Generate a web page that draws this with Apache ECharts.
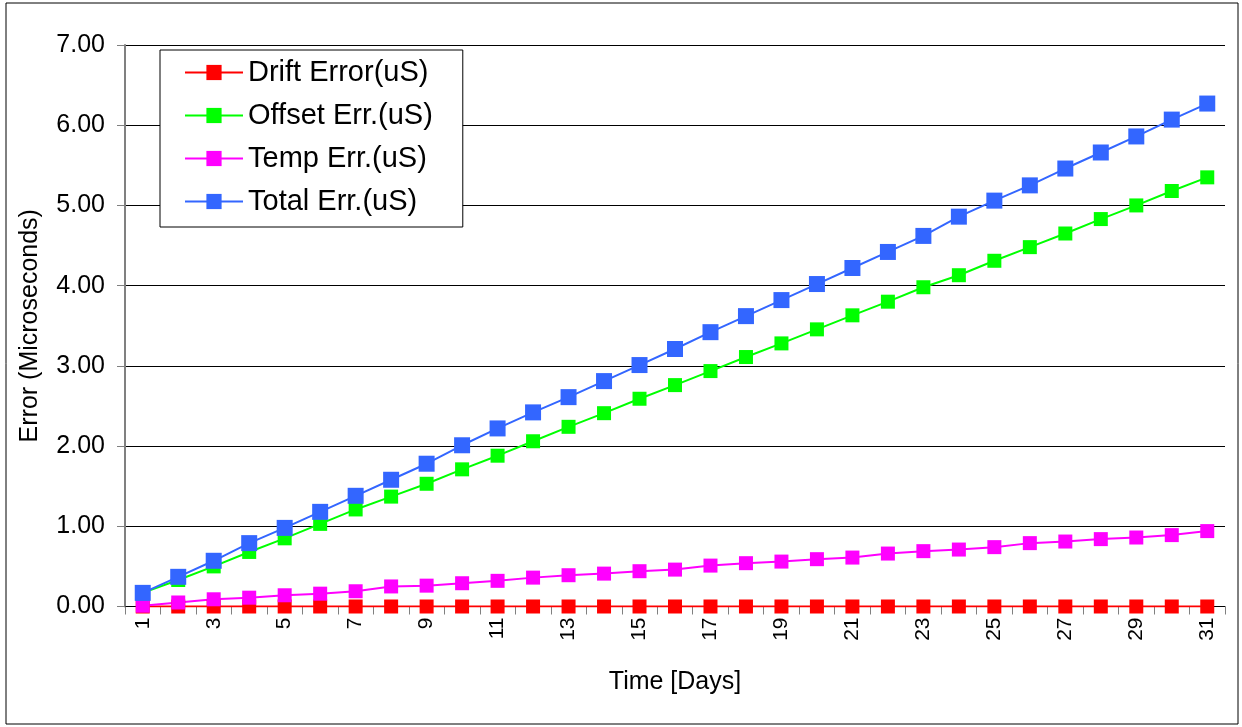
<!DOCTYPE html>
<html>
<head>
<meta charset="utf-8">
<script src="https://cdn.jsdelivr.net/npm/echarts@6/dist/echarts.min.js"></script>
<style>
html,body{margin:0;padding:0;background:#fff;}
#c{width:1242px;height:727px;}
</style>
</head>
<body>
<div id="c"></div>
<script>
const days = ['1','2','3','4','5','6','7','8','9','10','11','12','13','14','15','16','17','18','19','20','21','22','23','24','25','26','27','28','29','30','31'];
const driftErr = [0.00,0.00,0.00,0.00,0.00,0.00,0.00,0.00,0.00,0.00,0.00,0.00,0.00,0.00,0.00,0.00,0.00,0.00,0.00,0.00,0.00,0.00,0.00,0.00,0.00,0.00,0.00,0.00,0.00,0.00,0.00];
const offsetErr = [0.17,0.33,0.50,0.68,0.85,1.03,1.21,1.37,1.53,1.71,1.88,2.06,2.24,2.41,2.59,2.76,2.935,3.11,3.28,3.455,3.63,3.80,3.98,4.13,4.31,4.48,4.65,4.83,5.00,5.18,5.35];
const tempErr = [0.01,0.05,0.09,0.11,0.14,0.16,0.19,0.25,0.26,0.29,0.32,0.36,0.39,0.41,0.44,0.46,0.51,0.54,0.56,0.59,0.61,0.66,0.69,0.71,0.74,0.79,0.81,0.84,0.86,0.89,0.94];
const totalErr = [0.17,0.37,0.57,0.79,0.98,1.18,1.38,1.58,1.78,2.01,2.22,2.42,2.61,2.81,3.01,3.21,3.42,3.62,3.82,4.02,4.22,4.42,4.62,4.86,5.06,5.25,5.46,5.66,5.86,6.07,6.27];
const seriesNames = ['Drift Error(uS)','Offset Err.(uS)','Temp Err.(uS)','Total Err.(uS)'];

const FONT = 'Liberation Sans, Arial, sans-serif';
const chart = echarts.init(document.getElementById('c'), null, {renderer:'canvas'});

function mk(name, data, color, size) {
  return {
    name: name, type: 'line', data: data,
    symbol: 'rect', symbolSize: size,
    itemStyle: {color: color},
    lineStyle: {color: color, width: 2},
    emphasis: {disabled: true}
  };
}

chart.setOption({
  animation: false,
  backgroundColor: '#fff',
  graphic: [{
    type: 'rect', shape: {x: 6, y: 3, width: 1232, height: 721},
    style: {fill: 'none', stroke: '#000', lineWidth: 1}, z: -1
  }],
  grid: {left: 125, right: 17, top: 45, bottom: 120.5, containLabel: false},
  legend: {
    orient: 'vertical', left: 160, top: 50,
    data: seriesNames,
    itemWidth: 58, itemHeight: 19, itemGap: 14,
    padding: [8, 30, 11, 24],
    borderColor: '#000', borderWidth: 1,
    backgroundColor: '#fff',
    textStyle: {fontFamily: FONT, fontSize: 29, color: '#000', lineHeight: 28},
    selectedMode: false
  },
  xAxis: {
    type: 'category', data: days, boundaryGap: true,
    name: 'Time [Days]', nameLocation: 'middle', nameGap: 63,
    nameTextStyle: {fontFamily: FONT, fontSize: 25, color: '#000'},
    axisLine: {show: true, lineStyle: {color: '#000', width: 1}},
    axisTick: {show: true, interval: 0, length: 8, lineStyle: {color: '#808080', width: 1}},
    axisLabel: {interval: 1, rotate: 90, margin: 11, fontFamily: FONT, fontSize: 21, color: '#000'},
    splitLine: {show: false}
  },
  yAxis: {
    type: 'value', min: 0, max: 7, interval: 1,
    name: 'Error (Microseconds)', nameLocation: 'middle', nameGap: 82, nameRotate: 90,
    nameTextStyle: {fontFamily: FONT, fontSize: 25, color: '#000'},
    axisLine: {show: true, lineStyle: {color: '#808080', width: 2}},
    axisTick: {show: true, length: 8, lineStyle: {color: '#808080', width: 1}},
    axisLabel: {margin: 20, fontFamily: FONT, fontSize: 25, color: '#000', formatter: v => v.toFixed(2)},
    splitLine: {show: true, lineStyle: {color: '#000', width: 1}}
  },
  series: [
    mk(seriesNames[0], driftErr, '#FF0000', 14),
    mk(seriesNames[1], offsetErr, '#00FF00', 14),
    mk(seriesNames[2], tempErr, '#FF00FF', 14),
    mk(seriesNames[3], totalErr, '#3366FF', 16)
  ]
});
</script>
</body>
</html>
